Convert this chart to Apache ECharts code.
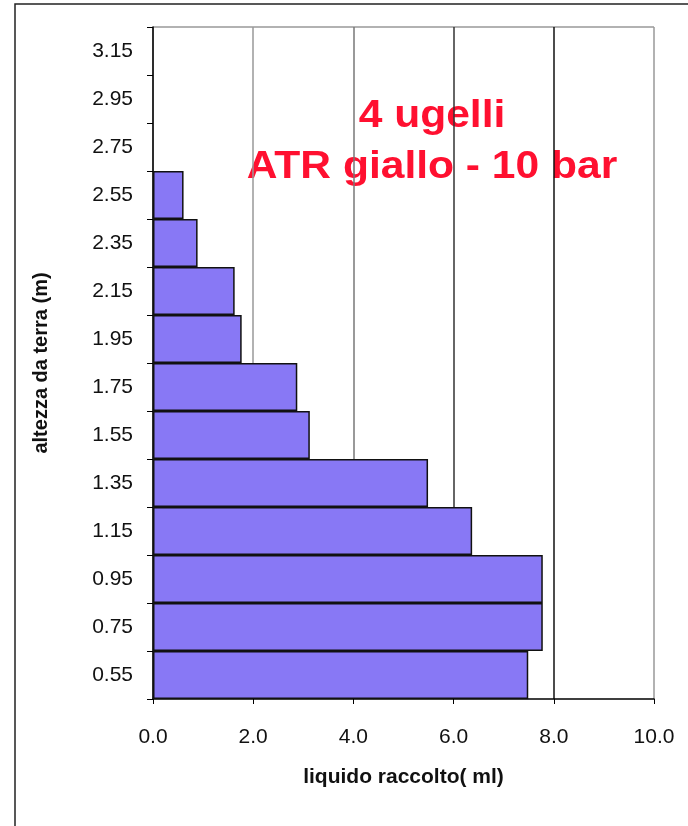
<!DOCTYPE html>
<html>
<head>
<meta charset="utf-8">
<script src="https://cdn.jsdelivr.net/npm/echarts@6/dist/echarts.min.js"></script>
<style>
  html, body { margin: 0; padding: 0; background: #fff; }
  #chart { width: 688px; height: 826px; }
</style>
</head>
<body>
<div id="chart"></div>
<script>
// Heights above ground (m), bottom to top
const heights = ['0.55', '0.75', '0.95', '1.15', '1.35', '1.55', '1.75', '1.95', '2.15', '2.35', '2.55', '2.75', '2.95', '3.15'];
// Collected liquid (ml) at each height; the top bands collected nothing
const collected = [7.49, 7.78, 7.78, 6.37, 5.49, 3.13, 2.88, 1.77, 1.63, 0.89, 0.61];
// Value axis ticks
const xTicks = [0, 2, 4, 6, 8, 10];

const barData = heights.map((h, i) => (i < collected.length ? collected[i] : '-'));

const chart = echarts.init(document.getElementById('chart'), null, { renderer: 'canvas' });
const font = '"Liberation Sans", Arial, sans-serif';
const red = '#ff1030';

chart.setOption({
  animation: false,
  backgroundColor: '#fff',
  grid: { left: 153, right: 34, top: 27, bottom: 127, show: false },
  xAxis: {
    type: 'value',
    min: xTicks[0],
    max: xTicks[xTicks.length - 1],
    interval: 2,
    name: 'liquido raccolto( ml)',
    nameLocation: 'middle',
    nameGap: 68,
    nameTextStyle: { fontFamily: font, fontSize: 21, fontWeight: 'bold', color: '#111' },
    axisLine: { show: true, lineStyle: { color: '#000', width: 1.5 } },
    axisTick: { show: true, inside: false, length: 5, lineStyle: { color: '#000' } },
    axisLabel: {
      fontFamily: font, fontSize: 21, color: '#111', margin: 28,
      formatter: v => v.toFixed(1)
    },
    splitLine: {
      show: true,
      lineStyle: { color: ['#999', '#999', '#777', '#333', '#111', '#999'], width: 1.5 }
    }
  },
  yAxis: {
    type: 'category',
    data: heights,
    boundaryGap: true,
    name: 'altezza da terra (m)',
    nameLocation: 'middle',
    nameGap: 102,
    nameTextStyle: { fontFamily: font, fontSize: 20, fontWeight: 'bold', color: '#111' },
    axisLine: { show: true, lineStyle: { color: '#000', width: 1.5 } },
    axisTick: { show: true, inside: false, length: 6, lineStyle: { color: '#000' } },
    axisLabel: { fontFamily: font, fontSize: 21, color: '#111', margin: 20 },
    splitLine: { show: false }
  },
  graphic: [
    // outer frame
    { type: 'rect', silent: true, z: -1,
      shape: { x: 15, y: 4, width: 700, height: 840 },
      style: { fill: null, stroke: '#222', lineWidth: 1.5 } },
    // top border of the plot area
    { type: 'line', silent: true,
      shape: { x1: 153, y1: 27, x2: 654, y2: 27 },
      style: { stroke: '#999', lineWidth: 1.5 } },
    // two-line annotation
    { type: 'text', silent: true, x: 432, y: 117, scaleX: 1.12,
      style: { text: '4 ugelli', x: 0, y: 0, align: 'center', verticalAlign: 'middle',
               font: 'bold 38px ' + font, fill: red } },
    { type: 'text', silent: true, x: 432, y: 168, scaleX: 1.12,
      style: { text: 'ATR giallo - 10 bar', x: 0, y: 0, align: 'center', verticalAlign: 'middle',
               font: 'bold 38px ' + font, fill: red } }
  ],
  series: [{
    type: 'bar',
    data: barData,
    barWidth: '100%',
    barCategoryGap: '0%',
    itemStyle: { color: '#8878f5', borderColor: '#111', borderWidth: 1.5 },
    z: 3
  }]
});
</script>
</body>
</html>
